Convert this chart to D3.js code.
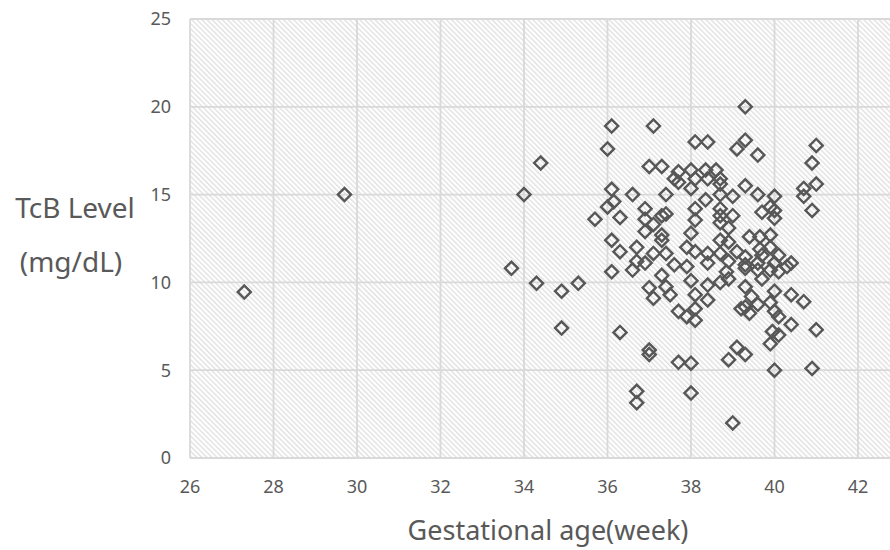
<!DOCTYPE html>
<html>
<head>
<meta charset="utf-8">
<script src="https://cdn.jsdelivr.net/npm/d3@7"></script>
<style>
  html, body { margin: 0; padding: 0; background: #fff; }
  #chart { width: 890px; height: 550px; }
  text { font-family: "Noto Sans", "Open Sans", sans-serif; fill: #595959; }
</style>
</head>
<body>
<div id="chart"></div>
<script>
// TcB level vs gestational age
var xTicks = [26, 28, 30, 32, 34, 36, 38, 40, 42];
var yTicks = [0, 5, 10, 15, 20, 25];
var xTitle = "Gestational age(week)";
var yTitle = ["TcB Level", "(mg/dL)"];

var ageWeeks = [
  27.3, 29.7, 33.7, 34.0, 34.4, 34.3, 34.9, 34.9, 35.3, 35.7,
  36.1, 37.1, 36.0, 37.0, 37.3, 37.7, 37.7, 37.6, 36.1, 36.6,
  37.4, 36.15, 36.0, 36.9, 37.4, 37.3, 36.3, 36.9, 37.1, 36.9,
  37.3, 37.3, 36.1, 36.3, 36.7, 37.1, 37.4, 37.9, 36.7, 36.9,
  37.6, 36.1, 36.6, 37.3, 37.0, 37.1, 37.5, 37.4, 37.7, 36.3,
  37.0, 37.0, 37.7, 36.7, 36.7, 38.0, 38.0, 39.0, 38.9, 39.1,
  39.3, 40.0, 40.9, 41.0, 39.9, 40.1, 40.4, 40.7, 40.4, 40.1,
  40.0, 39.9, 40.0, 39.7, 39.6, 39.4, 39.3, 39.3, 39.45, 40.1,
  40.3, 38.7, 38.4, 38.4, 38.1, 38.1, 38.0, 38.1, 37.9, 38.9,
  39.3, 39.6, 39.9, 39.95, 39.2, 39.3, 38.1, 38.4, 39.1, 39.3,
  39.6, 41.0, 40.9, 40.7, 41.0, 40.7, 40.9, 40.0, 39.6, 39.3,
  39.0, 38.7, 38.7, 38.6, 38.35, 38.0, 38.1, 38.4, 38.7, 38.0,
  38.35, 38.1, 38.7, 39.0, 38.7, 39.7, 40.0, 39.9, 40.0, 38.1,
  38.7, 38.9, 38.0, 39.4, 39.65, 39.9, 38.7, 38.9, 39.9, 39.65,
  38.1, 38.4, 38.7, 39.1, 39.3, 39.7, 40.1, 37.9, 38.4, 38.9,
  39.3, 39.6, 40.0, 40.4, 38.85
];
var tcbLevel = [
  9.45, 15.0, 10.8, 15.0, 16.8, 9.95, 9.5, 7.4, 9.95, 13.6,
  18.9, 18.9, 17.6, 16.6, 16.6, 16.3, 15.7, 15.9, 15.3, 15.0,
  15.0, 14.6, 14.3, 14.2, 13.9, 13.8, 13.7, 13.6, 13.3, 12.9,
  12.7, 12.4, 12.4, 11.75, 12.0, 11.65, 11.65, 12.0, 11.2, 11.1,
  11.0, 10.6, 10.7, 10.4, 9.7, 9.1, 9.3, 9.75, 8.35, 7.15,
  6.15, 5.9, 5.45, 3.8, 3.15, 3.7, 5.4, 2.0, 5.6, 6.3,
  5.9, 5.0, 5.1, 7.3, 6.5, 7.0, 7.6, 8.9, 9.3, 8.05,
  8.35, 8.85, 9.5, 10.2, 8.75, 8.25, 8.6, 9.75, 9.2, 10.6,
  10.9, 10.0, 9.85, 9.0, 9.3, 8.5, 10.1, 7.85, 8.05, 10.2,
  10.8, 10.7, 10.7, 7.2, 8.5, 20.0, 18.0, 18.0, 17.6, 18.1,
  17.25, 17.8, 16.8, 15.35, 15.6, 14.9, 14.1, 14.9, 15.0, 15.5,
  14.9, 15.0, 15.6, 16.4, 16.4, 16.4, 15.9, 15.9, 15.9, 15.35,
  14.7, 14.2, 14.2, 13.8, 13.8, 14.0, 14.1, 14.3, 13.65, 13.55,
  13.4, 13.1, 12.8, 12.6, 12.6, 12.7, 12.4, 12.3, 12.0, 11.9,
  11.75, 11.65, 11.65, 11.75, 11.45, 11.55, 11.55, 10.9, 11.1, 11.2,
  11.0, 11.1, 11.1, 11.1, 10.6
];

(function () {
  "use strict";
  var W = 890, H = 550, m = { t: 19, r: 0, b: 92, l: 190 };
  var iw = W - m.l - m.r, ih = H - m.t - m.b;
  var GRID = "#d9d9d9", HATCH = "#e1e1e1", MARK = "#575757";

  // 2 weeks = 83.5px, so the frame runs a little past 42
  var x = d3.scaleLinear().domain([26, 26 + iw / 41.75]).range([0, iw]);
  var y = d3.scaleLinear().domain([0, 25]).range([ih, 0]);

  var svg = d3.select("#chart").append("svg")
    .attr("width", W).attr("height", H).attr("viewBox", "0 0 " + W + " " + H);

  // diagonal hatch fill of the plot area
  var pat = svg.append("defs").append("pattern").attr("id", "hatch")
    .attr("patternUnits", "userSpaceOnUse").attr("width", 3.6).attr("height", 3.6)
    .attr("patternTransform", "rotate(-45)");
  pat.append("rect").attr("width", 3.6).attr("height", 3.6).attr("fill", "#fff");
  pat.append("line").attr("x1", 0.7).attr("x2", 0.7).attr("y1", 0).attr("y2", 3.6)
    .attr("stroke", HATCH).attr("stroke-width", 1.4);

  var g = svg.append("g").attr("transform", "translate(" + m.l + "," + m.t + ")");
  g.append("rect").attr("width", iw).attr("height", ih).attr("fill", "url(#hatch)");

  // grid
  xTicks.forEach(function (t) {
    g.append("line").attr("x1", x(t)).attr("x2", x(t)).attr("y1", 0).attr("y2", ih)
      .attr("stroke", GRID).attr("stroke-width", 1.8);
  });
  yTicks.forEach(function (t) {
    g.append("line").attr("x1", 0).attr("x2", iw).attr("y1", y(t)).attr("y2", y(t))
      .attr("stroke", GRID).attr("stroke-width", 1.8);
  });

  // tick labels
  xTicks.forEach(function (t) {
    g.append("text").attr("x", x(t)).attr("y", ih + 29).attr("dy", "0.35em")
      .attr("text-anchor", "middle").attr("font-size", 18).text(t);
  });
  yTicks.forEach(function (t) {
    g.append("text").attr("x", -19).attr("y", y(t)).attr("dy", "0.35em")
      .attr("text-anchor", "end").attr("font-size", 18).text(t);
  });

  // axis titles
  svg.append("text").attr("x", 548).attr("y", 540).attr("text-anchor", "middle")
    .attr("font-size", 27).text(xTitle);
  svg.append("text").attr("x", 75).attr("y", 218).attr("text-anchor", "middle")
    .attr("font-size", 28).text(yTitle[0]);
  svg.append("text").attr("x", 71).attr("y", 272).attr("text-anchor", "middle")
    .attr("font-size", 28).text(yTitle[1]);

  // diamond markers
  var diamond = d3.symbol().type(d3.symbolSquare).size(86);
  ageWeeks.forEach(function (a, i) {
    g.append("path").attr("d", diamond())
      .attr("transform", "translate(" + x(a) + "," + y(tcbLevel[i]) + ") rotate(45)")
      .attr("fill", "none").attr("stroke", MARK).attr("stroke-width", 2.4);
  });
})();
</script>
</body>
</html>
